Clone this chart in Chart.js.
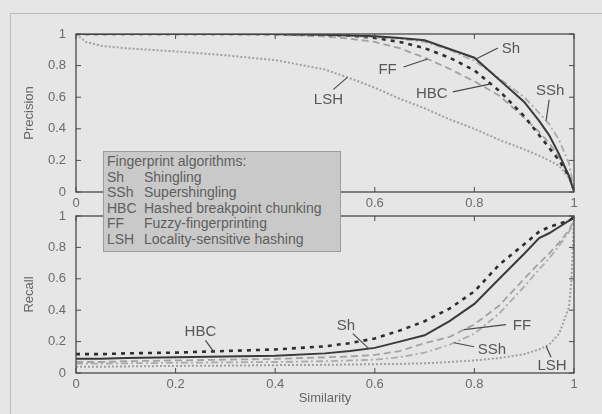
<!DOCTYPE html>
<html><head><meta charset="utf-8">
<script src="https://cdn.jsdelivr.net/npm/chart.js@4.4.1/dist/chart.umd.min.js"></script>
<style>
html,body{margin:0;padding:0;background:#e6e6e6;width:602px;height:414px;overflow:hidden;font-family:"Liberation Sans",Arial,sans-serif;}
#frame{position:absolute;left:10px;top:13px;width:640px;height:440px;border:1px solid #bcbcbc;}
canvas{position:absolute;left:0;top:0;}
#legend{position:absolute;left:103px;top:151px;width:238px;height:101px;background:#c9c9c9;border:1px solid #9c9c9c;font-size:14px;line-height:15.6px;color:#5e5e5e;padding:2px 0 0 3px;box-sizing:border-box;white-space:nowrap;}
#legend .a{display:inline-block;width:37px;}
</style></head><body>
<div id="frame"></div>
<canvas id="cPrec" width="602" height="414"></canvas>
<canvas id="cRec" width="602" height="414"></canvas>
<div id="legend"></div>
<script>
// ---- data ----
const similarity = [0, 0.02, 0.05, 0.1, 0.2, 0.3, 0.4, 0.5, 0.55, 0.6, 0.65, 0.7, 0.75, 0.8, 0.85, 0.9, 0.93, 0.95, 0.97, 0.99, 0.995, 1];

const precisionSh  = [1,1,1,1,1,1,1,0.995,0.99,0.985,0.975,0.96,0.905,0.85,0.71,0.57,0.45,0.36,0.24,0.1,0.05,0.01];
const precisionSSh = [1,1,1,1,1,1,1,0.995,0.99,0.98,0.97,0.95,0.9,0.83,0.72,0.6,0.5,0.43,0.33,0.18,0.1,0.01];
const precisionHBC = [1,1,1,1,1,1,1,0.995,0.99,0.975,0.95,0.91,0.85,0.77,0.64,0.48,0.36,0.28,0.2,0.1,0.06,0.01];
const precisionFF  = [1,1,1,1,1,1,0.995,0.985,0.97,0.95,0.91,0.85,0.78,0.7,0.61,0.47,0.38,0.31,0.22,0.1,0.06,0.01];
const precisionLSH = [1,0.95,0.925,0.91,0.89,0.865,0.835,0.775,0.72,0.66,0.59,0.53,0.46,0.4,0.33,0.27,0.23,0.2,0.165,0.09,0.05,0];

const recallSh  = [0.09,0.09,0.09,0.095,0.1,0.105,0.11,0.125,0.14,0.16,0.2,0.24,0.33,0.44,0.6,0.76,0.86,0.89,0.93,0.97,0.985,1];
const recallSSh = [0.06,0.06,0.06,0.062,0.065,0.068,0.07,0.075,0.08,0.085,0.1,0.13,0.18,0.25,0.38,0.55,0.66,0.73,0.81,0.9,0.93,0.97];
const recallHBC = [0.12,0.12,0.12,0.125,0.13,0.14,0.15,0.17,0.19,0.22,0.27,0.33,0.41,0.52,0.69,0.82,0.9,0.93,0.95,0.97,0.98,0.99];
const recallFF  = [0.07,0.07,0.07,0.075,0.08,0.085,0.09,0.1,0.105,0.115,0.14,0.19,0.23,0.31,0.43,0.6,0.7,0.76,0.83,0.91,0.94,0.97];
const recallLSH = [0.04,0.04,0.04,0.042,0.045,0.047,0.05,0.052,0.054,0.056,0.058,0.062,0.07,0.08,0.095,0.12,0.15,0.18,0.25,0.42,0.6,0.97];

const tickValues = [0, 0.2, 0.4, 0.6, 0.8, 1];
const tickLabels = ['0', '0.2', '0.4', '0.6', '0.8', '1'];
const algoAbbr = ['Sh', 'SSh', 'HBC', 'FF', 'LSH'];
const algoName = ['Shingling', 'Supershingling', 'Hashed breakpoint chunking', 'Fuzzy-fingerprinting', 'Locality-sensitive hashing'];
const legendTitle = 'Fingerprint algorithms:';
const xTitle = 'Similarity';
const yTitlePrec = 'Precision';
const yTitleRec = 'Recall';

// curve labels: series, similarity where the pointer touches the curve
const precisionNotes = [
  {series:'Sh',  at:0.803, dx:35,  dy:-10, lx:22,  ly:-11},
  {series:'FF',  at:0.706, dx:-40, dy:11,  lx:-24, ly:8},
  {series:'HBC', at:0.833, dx:-59, dy:10,  lx:-38, ly:8},
  {series:'LSH', at:0.545, dx:-19, dy:22,  lx:-14, ly:12},
  {series:'SSh', at:0.944, dx:4,   dy:-30, lx:3,   ly:-21}
];
const recallNotes = [
  {series:'HBC', at:0.276, dx:-13, dy:-20, lx:-8,  ly:-11},
  {series:'Sh',  at:0.588, dx:-23, dy:-23, lx:-16, ly:-15},
  {series:'FF',  at:0.779, dx:58,  dy:-4,  lx:42,  ly:-5},
  {series:'SSh', at:0.759, dx:38,  dy:7,   lx:20,  ly:4},
  {series:'LSH', at:0.944, dx:6,   dy:20,  lx:5,   ly:11}
];

// ---- styles ----
const seriesStyle = {
  Sh:  {color:'#3a3a3a', width:2,   dash:[]},
  SSh: {color:'#ababab', width:1.8, dash:[7,3,2,3]},
  HBC: {color:'#2e2e2e', width:2.6, dash:[4,5]},
  FF:  {color:'#a2a2a2', width:1.8, dash:[7,4]},
  LSH: {color:'#a0a0a0', width:2,   dash:[2,2]}
};

// legend (HTML text)
const lg = document.getElementById('legend');
let html = '<div>' + legendTitle + '</div>';
algoAbbr.forEach((a, i) => { html += '<div><span class="a">' + a + '</span>' + algoName[i] + '</div>'; });
lg.innerHTML = html;

function pts(xs, ys) { return xs.map((x, i) => ({x: x, y: ys[i]})); }
function makeDatasets(map) {
  return algoAbbr.map(a => ({
    label: a,
    data: pts(similarity, map[a]),
    borderColor: seriesStyle[a].color,
    borderWidth: seriesStyle[a].width,
    borderDash: seriesStyle[a].dash,
    pointRadius: 0,
    tension: 0,
    fill: false
  }));
}
function interp(data, x) {
  for (let i = 1; i < data.length; i++) {
    if (x <= data[i].x) {
      const a = data[i-1], b = data[i];
      return a.y + (b.y - a.y) * (x - a.x) / (b.x - a.x);
    }
  }
  return data[data.length-1].y;
}
function tickText(v) {
  const i = tickValues.findIndex(t => Math.abs(t - v) < 1e-6);
  return i >= 0 ? tickLabels[i] : '';
}

const boxPlugin = {
  id: 'boxPlugin',
  afterDraw(chart, args, opts) {
    const ctx = chart.ctx, ca = chart.chartArea;
    const xs = chart.scales.x, ys = chart.scales.y;
    ctx.save();
    ctx.strokeStyle = '#4a4a4a';
    ctx.lineWidth = 1.3;
    ctx.setLineDash([]);
    ctx.strokeRect(ca.left, ca.top, ca.right - ca.left, ca.bottom - ca.top);
    ctx.lineWidth = 1;
    ctx.beginPath();
    tickValues.forEach(v => {
      const py = ys.getPixelForValue(v);
      ctx.moveTo(ca.left, py); ctx.lineTo(ca.left + 5, py);
      ctx.moveTo(ca.right, py); ctx.lineTo(ca.right - 5, py);
      const px = xs.getPixelForValue(v);
      ctx.moveTo(px, ca.bottom); ctx.lineTo(px, ca.bottom - 5);
      ctx.moveTo(px, ca.top); ctx.lineTo(px, ca.top + 5);
    });
    ctx.stroke();
    // curve labels
    const notes = opts.notes || [];
    ctx.font = '15px "Liberation Sans", Arial, sans-serif';
    ctx.fillStyle = '#575757';
    ctx.strokeStyle = '#4a4a4a';
    ctx.lineWidth = 1.2;
    ctx.textAlign = 'center';
    ctx.textBaseline = 'middle';
    notes.forEach(n => {
      const ds = chart.data.datasets.find(d => d.label === n.series);
      const yv = interp(ds.data, n.at);
      const px = xs.getPixelForValue(n.at), py = ys.getPixelForValue(yv);
      ctx.beginPath();
      ctx.moveTo(px, py);
      ctx.lineTo(px + n.lx, py + n.ly);
      ctx.stroke();
      ctx.fillText(n.series, px + n.dx, py + n.dy);
    });
    ctx.restore();
  }
};

const tickFont = {family: '"Liberation Sans", Arial, sans-serif', size: 13};
function makeOptions(padding, yTitle, showXTitle, xHeight, notes) {
  return {
    responsive: false,
    animation: false,
    devicePixelRatio: 1,
    layout: {padding: padding},
    plugins: {legend: {display: false}, tooltip: {enabled: false}, boxPlugin: {notes: notes}},
    scales: {
      x: {
        type: 'linear', min: 0, max: 1,
        grid: {display: false, drawTicks: false},
        border: {display: false},
        ticks: {stepSize: 0.2, padding: 4, color: '#6a6a6a', font: tickFont, maxRotation: 0, callback: tickText},
        title: {display: showXTitle, text: xTitle, color: '#666', font: tickFont, padding: {top: 0, bottom: 8}},
        afterFit: s => { s.height = xHeight; }
      },
      y: {
        type: 'linear', min: 0, max: 1,
        grid: {display: false, drawTicks: false},
        border: {display: false},
        ticks: {stepSize: 0.2, padding: 10, color: '#6a6a6a', font: tickFont, callback: tickText},
        title: {display: true, text: yTitle, color: '#666', font: tickFont, padding: {top: 22, bottom: 0}},
        afterFit: s => { s.width = 76; }
      }
    }
  };
}

new Chart(document.getElementById('cPrec'), {
  type: 'line',
  data: {datasets: makeDatasets({Sh: precisionSh, SSh: precisionSSh, HBC: precisionHBC, FF: precisionFF, LSH: precisionLSH})},
  options: makeOptions({left: 0, right: 28, top: 34, bottom: 200}, yTitlePrec, false, 22, precisionNotes),
  plugins: [boxPlugin]
});
new Chart(document.getElementById('cRec'), {
  type: 'line',
  data: {datasets: makeDatasets({Sh: recallSh, SSh: recallSSh, HBC: recallHBC, FF: recallFF, LSH: recallLSH})},
  options: makeOptions({left: 0, right: 28, top: 216, bottom: 0}, yTitleRec, true, 41, recallNotes),
  plugins: [boxPlugin]
});
</script>
</body></html>
